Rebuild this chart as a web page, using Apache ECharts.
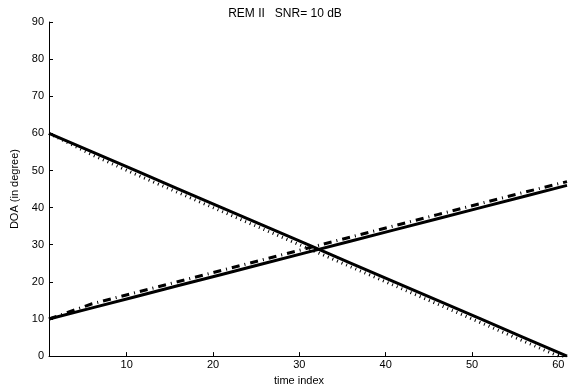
<!DOCTYPE html>
<html>
<head>
<meta charset="utf-8">
<script src="https://cdn.jsdelivr.net/npm/echarts@6/dist/echarts.min.js"></script>
<style>html,body{margin:0;padding:0;background:#fff}#c{width:571px;height:391px}</style>
</head>
<body>
<div id="c"></div>
<script>
// time index samples
var timeIdx = [1, 6, 11, 16, 21, 26, 31, 36, 41, 46, 51, 56, 61];
// true DOAs
var trueDesc = [60, 55, 50, 45, 40, 35, 30, 25, 20, 15, 10, 5, 0];
var trueAsc  = [10, 13, 16, 19, 22, 25, 28, 31, 34, 37, 40, 43, 46];
// REM II estimates
var estAsc   = [10, 14.1, 17.1, 20.1, 23.1, 26.1, 29.1, 32.1, 35.1, 38.1, 41.1, 44.1, 47];
var estDesc  = [60, 54.2, 49.0, 44.0, 39.0, 34.0, 29.0, 24.0, 19.0, 14.0, 9.0, 4.0, -1.0];
var xTicks = [10, 20, 30, 40, 50, 60];
var yTicks = [0, 10, 20, 30, 40, 50, 60, 70, 80, 90];

function pairs(xs, ys) { return xs.map(function (x, i) { return [x, ys[i]]; }); }

var font = 'Liberation Sans, Arial, sans-serif';
var chart = echarts.init(document.getElementById('c'), null, {renderer: 'canvas'});
chart.setOption({
  animation: false,
  backgroundColor: '#fff',
  title: {
    text: 'REM II   SNR= 10 dB',
    left: 280, top: 3, textAlign: 'center',
    textStyle: {fontFamily: font, fontSize: 12, fontWeight: 'normal', color: '#000'}
  },
  grid: {left: 49, right: 4, top: 22, bottom: 30.5, containLabel: false},
  xAxis: {
    type: 'value', min: 1, max: 61,
    name: 'time index', nameLocation: 'middle', nameGap: 16,
    nameTextStyle: {fontFamily: font, fontSize: 11, color: '#000', padding: [0, 18, 0, 0]},
    axisLine: {show: true, lineStyle: {color: '#000', width: 1}},
    axisTick: {show: true, inside: true, length: 4, customValues: xTicks, lineStyle: {color: '#000'}},
    axisLabel: {customValues: xTicks, fontFamily: font, fontSize: 11, color: '#000', margin: 3},
    splitLine: {show: false}
  },
  yAxis: {
    type: 'value', min: 0, max: 90, interval: 10,
    name: 'DOA (in degree)', nameLocation: 'middle', nameGap: 22,
    nameTextStyle: {fontFamily: font, fontSize: 11, color: '#000'},
    axisLine: {show: true, lineStyle: {color: '#000', width: 1}},
    axisTick: {show: true, inside: true, length: 4, lineStyle: {color: '#000'}},
    axisLabel: {fontFamily: font, fontSize: 11, color: '#000', margin: 5},
    splitLine: {show: false}
  },
  series: [
    {type: 'line', data: pairs(timeIdx, estDesc), symbol: 'none', clip: true,
     lineStyle: {color: '#000', width: 3, type: [1, 4], cap: 'butt'}},
    {type: 'line', data: pairs(timeIdx, estAsc), symbol: 'none', clip: true,
     lineStyle: {color: '#000', width: 3, type: [8, 5, 1, 5], cap: 'butt'}},
    {type: 'line', data: pairs(timeIdx, trueDesc), symbol: 'none', clip: true,
     lineStyle: {color: '#000', width: 3}},
    {type: 'line', data: pairs(timeIdx, trueAsc), symbol: 'none', clip: true,
     lineStyle: {color: '#000', width: 3}}
  ]
});
</script>
</body>
</html>
